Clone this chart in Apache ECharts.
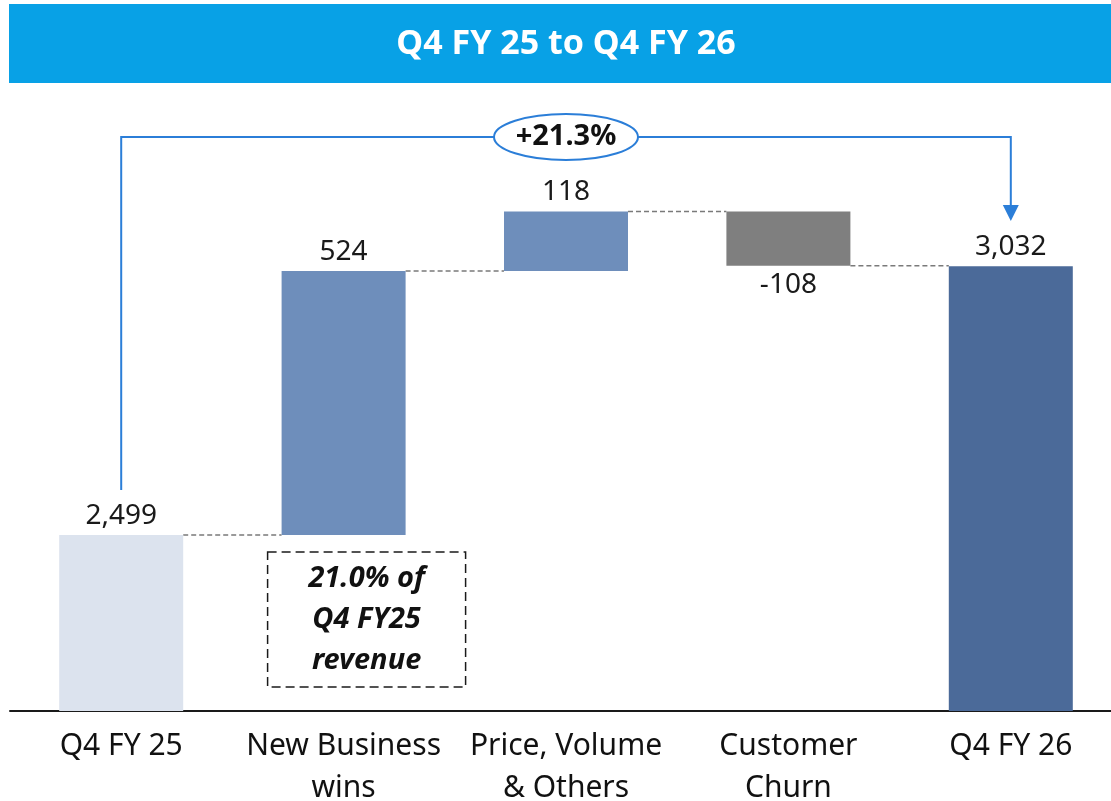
<!DOCTYPE html>
<html>
<head>
<meta charset="utf-8">
<script src="https://cdn.jsdelivr.net/npm/echarts@6/dist/echarts.min.js"></script>
<style>
html,body{margin:0;padding:0;background:#fff;}
#chart{width:1111px;height:801px;}
</style>
</head>
<body>
<div id="chart"></div>
<script>
// ---- data ----
var categories = ['Q4 FY 25', 'New Business\nwins', 'Price, Volume\n& Others', 'Customer\nChurn', 'Q4 FY 26'];
var baseValues = [0, 2499, 3023, 3033, 0];        // invisible offsets
var deltaValues = [2499, 524, 118, 108, 3032];     // visible bar heights
var valueLabels = ['2,499', '524', '118', '-108', '3,032'];
var connectorLevels = [2499, 3023, 3141, 3033];    // dashed connector levels
var titleText = 'Q4 FY 25 to Q4 FY 26';
var growthText = '+21.3%';
var noteLines = ['21.0% of', 'Q4 FY25', 'revenue'];

var barColors = ['#DCE3EE', '#6E8EBB', '#6E8EBB', '#7F7F7F', '#4B6A99'];
var FONT = '"Noto Sans", "Open Sans", sans-serif';

var chart = echarts.init(document.getElementById('chart'), null, {renderer: 'canvas'});

var option = {
  animation: false,
  backgroundColor: '#ffffff',
  grid: {left: 10, width: 1112, top: 101, bottom: 90, containLabel: false, outerBoundsMode: 'none'},
  xAxis: {
    type: 'category',
    data: categories,
    axisLine: {show: true, onZero: false, lineStyle: {color: '#1a1a1a', width: 2}},
    axisTick: {show: false},
    axisLabel: {
      fontFamily: FONT, fontSize: 30, color: '#111', lineHeight: 42,
      margin: 14, interval: 0
    },
    splitLine: {show: false}
  },
  yAxis: {
    type: 'value', min: 2150, max: 3360,
    show: false, splitLine: {show: false}
  },
  series: [
    {
      type: 'bar', stack: 'w', data: baseValues, barWidth: 124, silent: true,
      itemStyle: {color: 'rgba(0,0,0,0)'}
    },
    {
      type: 'bar', stack: 'w', barWidth: 124,
      data: deltaValues.map(function (v, i) {
        return {
          value: v,
          itemStyle: {color: barColors[i]},
          label: {position: i === 3 ? 'bottom' : 'top'}
        };
      }),
      label: {
        show: true, distance: 5, fontFamily: FONT, fontSize: 28, color: '#1a1a1a',
        formatter: function (p) { return valueLabels[p.dataIndex]; }
      }
    },
    {
      type: 'custom', silent: true, z: 1,
      data: connectorLevels.map(function (v, i) { return [i, v]; }),
      renderItem: function (params, api) {
        var idx = api.value(0);
        var p = api.coord([idx, api.value(1)]);
        var step = api.size([1, 0])[0];
        var half = 62;
        return {
          type: 'line',
          shape: {x1: p[0] + half, y1: p[1], x2: p[0] + step - half, y2: p[1]},
          style: {stroke: '#7a7a7a', lineWidth: 1.5, lineDash: [5, 3]}
        };
      }
    }
  ]
};
chart.setOption(option);

// ---- annotations (positions derived from the axis) ----
var x0 = chart.convertToPixel({xAxisIndex: 0}, 0);
var x1 = chart.convertToPixel({xAxisIndex: 0}, 1);
var x4 = chart.convertToPixel({xAxisIndex: 0}, 4);
var yTop = 137;
var blue = '#2B7ED8';
var cx = (x0 + x4) / 2;

chart.setOption({
  graphic: [
    {type: 'rect', shape: {x: 9, y: 4, width: 1102, height: 79}, style: {fill: '#08A1E6'}, z: 10},
    {type: 'text', x: 566, y: 44, z: 11,
      style: {text: titleText, fill: '#fff', font: 'bold 34px ' + FONT, align: 'center', verticalAlign: 'middle'}},
    {type: 'polyline', z: 10,
      shape: {points: [[x0, 490], [x0, yTop], [x4, yTop], [x4, 207]]},
      style: {stroke: blue, lineWidth: 2, fill: null}},
    {type: 'polygon', z: 10,
      shape: {points: [[x4 - 8, 205], [x4 + 8, 205], [x4, 221]]},
      style: {fill: blue}},
    {type: 'ellipse', z: 11,
      shape: {cx: cx, cy: yTop, rx: 72, ry: 23},
      style: {fill: '#fff', stroke: blue, lineWidth: 2}},
    {type: 'text', x: cx, y: yTop, z: 12,
      style: {text: growthText, fill: '#111', font: 'bold 29px ' + FONT, align: 'center', verticalAlign: 'middle'}},
    {type: 'rect', z: 10,
      shape: {x: x1 - 76, y: 552, width: 198, height: 135},
      style: {fill: 'none', stroke: '#1a1a1a', lineWidth: 1.5, lineDash: [9, 5]}},
    {type: 'text', x: x1 + 23, y: 620, z: 11,
      style: {text: noteLines.join('\n'), fill: '#111', font: 'italic bold 29px ' + FONT,
        align: 'center', verticalAlign: 'middle', lineHeight: 41}}
  ]
});
</script>
</body>
</html>
